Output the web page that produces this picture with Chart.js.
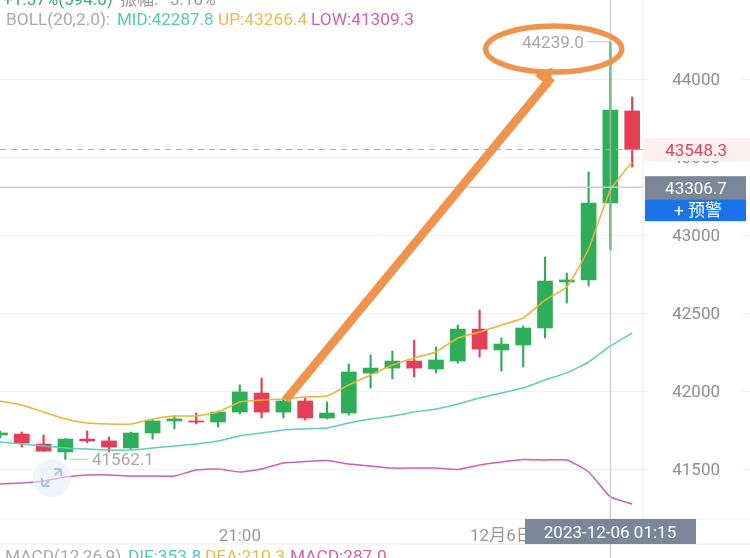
<!DOCTYPE html>
<html>
<head>
<meta charset="utf-8">
<script src="https://cdn.jsdelivr.net/npm/chart.js@4"></script>
<style>
html, body { margin: 0; padding: 0; background: #fff; overflow: hidden; width: 750px; height: 558px; }
canvas { display: block; }
</style>
</head>
<body>
<canvas id="klineChart" width="763" height="558"></canvas>
<script>
var times = ["18:15","18:30","18:45","19:00","19:15","19:30","19:45","20:00","20:15","20:30","20:45","21:00","21:15","21:30","21:45","22:00","22:15","22:30","22:45","23:00","23:15","23:30","23:45","00:00","00:15","00:30","00:45","01:00","01:15","01:30","01:45","02:00","02:15","02:30","02:45","03:00"];
var shownTimes = { "21:00": "21:00", "00:00": "12月6日" };
var priceTicks = [41500, 42000, 42500, 43000, 43500, 44000];

var opens  = [41718,41724,41660,41609,41692,41680,41635,41731,41808,41808,41801,41865,41987,41865,41936,41827,41859,42115,42147,42192,42141,42192,42397,42263,42295,42404,42699,42712,43205,43795];
var closes = [41731,41667,41615,41692,41680,41641,41731,41808,41821,41801,41865,41994,41865,41936,41827,41859,42122,42147,42192,42147,42199,42397,42269,42301,42404,42705,42712,43205,43801,43548.3];
var highs  = [41744,41737,41718,41695,41744,41705,41737,41814,41840,41859,41872,42039,42083,41962,41955,41930,42173,42231,42256,42327,42282,42423,42519,42340,42417,42859,42756,43404,44239,43885];
var lows   = [41699,41641,41612,41562.1,41667,41609,41628,41692,41757,41789,41769,41853,41827,41827,41814,41821,41846,42019,42077,42090,42115,42179,42218,42128,42154,42340,42564,42673,42904,43436];

var bollUp  = [41936,41910,41865,41821,41795,41789,41789,41821,41840,41840,41865,41930,41942,41949,41962,41968,42039,42103,42167,42212,42250,42340,42378,42423,42468,42583,42667,42910,43289,43468];
var bollMid = [41673,41660,41648,41635,41628,41622,41622,41635,41648,41660,41680,41712,41731,41750,41757,41763,41795,41821,41840,41865,41885,41917,41955,41987,42019,42071,42116,42186,42289,42372];
var bollLow = [41404,41410,41423,41449,41462,41462,41455,41455,41455,41494,41500,41481,41500,41539,41548,41555,41532,41519,41506,41506,41506,41497,41526,41545,41561,41558,41558,41481,41321,41276];

var green = '#2fae5a';
var red = '#e43f54';
var font = 'Roboto, "Noto Sans CJK SC", sans-serif';

var candleColors = [];
var bodies = [];
var wicks = [];
var i;
for (i = 0; i < opens.length; i++) {
    candleColors.push(closes[i] >= opens[i] ? green : red);
    bodies.push([opens[i], closes[i]]);
    wicks.push([lows[i], highs[i]]);
}

function text(ctx, str, x, y, color, size, align) {
    ctx.fillStyle = color;
    ctx.font = size + 'px ' + font;
    ctx.textAlign = align || 'left';
    ctx.textBaseline = 'alphabetic';
    ctx.fillText(str, x, y);
}

function line(ctx, x1, y1, x2, y2, color, width, dash) {
    ctx.beginPath();
    ctx.strokeStyle = color;
    ctx.lineWidth = width;
    ctx.setLineDash(dash || []);
    ctx.moveTo(x1, y1);
    ctx.lineTo(x2, y2);
    ctx.stroke();
    ctx.setLineDash([]);
}

// everything the plain chart types can't do: crosshair, price tags, hand drawn arrow
var overlay = {
    id: 'overlay',
    afterDraw: function (chart) {
        var ctx = chart.ctx;
        var xs = chart.scales.x;
        var ys = chart.scales.y;
        var w = chart.width;
        var edge = xs.getPixelForValue(29.5);
        var crossX = xs.getPixelForValue(28);
        var crossY = ys.getPixelForValue(43306.7);
        var lastY = ys.getPixelForValue(43548.3);
        var bottom = chart.chartArea.bottom;
        ctx.save();

        line(ctx, edge, 0, edge, 544, '#eeeeee', 1);
        line(ctx, 0, bottom, w, bottom, '#eeeeee', 1);
        line(ctx, 0, 544, w, 544, '#eeeeee', 1);
        line(ctx, crossX, 0, crossX, 558, 'rgba(190,190,190,0.7)', 1.5);
        line(ctx, 0, crossY, edge, crossY, '#cfcfcf', 1.5);
        line(ctx, 0, lastY, edge, lastY, '#aaaaaa', 1, [6, 5]);

        // wicks of the crosshair candle sit on top of the crosshair
        line(ctx, crossX, ys.getPixelForValue(highs[28]), crossX, ys.getPixelForValue(closes[28]), '#6fbf8c', 1.5);
        line(ctx, crossX, ys.getPixelForValue(opens[28]), crossX, ys.getPixelForValue(lows[28]), '#6fbf8c', 1.5);

        ctx.fillStyle = '#fdf0f0';
        ctx.fillRect(edge, lastY - 11.5, w - edge, 23);
        text(ctx, '43548.3', 727, lastY + 6.5, '#d9485f', 17, 'right');

        ctx.fillStyle = '#7a8799';
        ctx.fillRect(645, crossY - 11, 101, 23);
        text(ctx, '43306.7', 696, crossY + 6.5, '#ffffff', 17, 'center');
        ctx.fillStyle = '#1a73e8';
        ctx.fillRect(645, crossY + 12, 101, 22);
        text(ctx, '+ 预警', 698, crossY + 29, '#ffffff', 17, 'center');

        ctx.fillStyle = '#7a8799';
        ctx.fillRect(525, bottom, 171, 25);
        text(ctx, '2023-12-06 01:15', 610, bottom + 19, '#ffffff', 17, 'center');

        // high / low markers
        var highY = ys.getPixelForValue(highs[28]);
        line(ctx, 587, highY, crossX, highY, '#c8c8c8', 1);
        text(ctx, '44239.0', 522, highY + 6, '#a8a8a8', 17);
        var lowY = ys.getPixelForValue(lows[3]);
        line(ctx, 69, lowY, 88, lowY, '#c8c8c8', 1);
        text(ctx, '41562.1', 92, lowY + 6, '#a8a8a8', 17);

        // drawing tool button
        ctx.fillStyle = 'rgba(228,238,252,0.6)';
        ctx.beginPath();
        ctx.arc(52, 478, 19, 0, Math.PI * 2);
        ctx.fill();
        line(ctx, 44, 486, 49, 481, '#a9c4ea', 2);
        line(ctx, 55, 475, 61, 469, '#a9c4ea', 2);
        line(ctx, 54, 469, 61, 469, '#a9c4ea', 2);
        line(ctx, 61, 469, 61, 476, '#a9c4ea', 2);
        line(ctx, 42, 478, 42, 486, '#a9c4ea', 2);
        line(ctx, 42, 486, 50, 486, '#a9c4ea', 2);

        // orange marker
        var orange = '#f0944d';
        var ax = xs.getPixelForValue(13.1), ay = ys.getPixelForValue(41942);
        var bx = xs.getPixelForValue(25.3), by = ys.getPixelForValue(44010);
        line(ctx, ax, ay, bx, by, orange, 8.5);
        ctx.fillStyle = orange;
        ctx.beginPath();
        ctx.moveTo(bx + 1, by - 10);
        ctx.lineTo(bx - 17, by - 2);
        ctx.lineTo(bx - 1, by + 10);
        ctx.closePath();
        ctx.fill();
        ctx.beginPath();
        ctx.strokeStyle = orange;
        ctx.lineWidth = 5.5;
        ctx.ellipse(xs.getPixelForValue(25.4), ys.getPixelForValue(44192), 68, 23, 0, 0, Math.PI * 2);
        ctx.stroke();

        // header rows
        text(ctx, '+1.37%(594.0)', 3, 5, '#3aae66', 17);
        text(ctx, '振幅:', 120, 5, '#9a9a9a', 17);
        text(ctx, '3.10%', 170, 5, '#9a9a9a', 17);
        text(ctx, 'BOLL(20,2.0):', 6, 25, '#aaaaaa', 17.3);
        text(ctx, 'MID:42287.8', 117, 25, '#53cbbb', 17);
        text(ctx, 'UP:43266.4', 218, 25, '#eeb94a', 17.3);
        text(ctx, 'LOW:41309.3', 311, 25, '#cf62b6', 17.3);
        text(ctx, 'MACD(12,26,9)', 5, 562, '#aaaaaa', 17.3);
        text(ctx, 'DIF:353.8', 128, 562, '#53cbbb', 17.3);
        text(ctx, 'DEA:210.3', 205, 562, '#eeb94a', 17.3);
        text(ctx, 'MACD:287.0', 290, 562, '#cf62b6', 17.3);
        ctx.restore();
    }
};

function bollDataset(values, color) {
    return {
        type: 'line',
        data: values,
        borderColor: color,
        borderWidth: 1.5,
        pointRadius: 0,
        lineTension: 0.15,
        fill: false,
        order: 0
    };
}

new Chart(document.getElementById('klineChart').getContext('2d'), {
    type: 'bar',
    data: {
        labels: times,
        datasets: [
            bollDataset(bollUp, '#e8b535'),
            bollDataset(bollMid, '#5ccdc0'),
            bollDataset(bollLow, '#cc5fb8'),
            { data: bodies, backgroundColor: candleColors, barThickness: 15, grouped: false, order: 1 },
            { data: wicks, backgroundColor: candleColors, barThickness: 1.5, grouped: false, order: 2 }
        ]
    },
    options: {
        responsive: false,
        animation: false,
        layout: { padding: 0, autoPadding: false },
        plugins: { legend: { display: false }, tooltip: { enabled: false } },
        scales: {
            x: {
                type: 'category',
                offset: false,
                grid: { display: false },
                border: { display: false },
                afterFit: function (scale) {
                    scale.height = 39;
                    scale.paddingLeft = 0;
                    scale.paddingRight = 0;
                },
                ticks: {
                    autoSkip: false,
                    maxRotation: 0,
                    padding: 0,
                    color: '#999999',
                    font: { family: font, size: 17 },
                    callback: function (value) {
                        return shownTimes[this.getLabelForValue(value)] || '';
                    }
                }
            },
            y: {
                position: 'right',
                min: 41179.6,
                max: 44506.4,
                border: { display: false },
                grid: { color: '#f2f2f2', lineWidth: 1, drawTicks: false },
                afterFit: function (scale) {
                    scale.width = 0;
                    scale.paddingTop = 0;
                    scale.paddingBottom = 0;
                },
                afterBuildTicks: function (scale) {
                    scale.ticks = priceTicks.map(function (v) { return { value: v }; });
                },
                ticks: {
                    mirror: true,
                    padding: -43,
                    labelOffset: 2,
                    color: '#8f8f8f',
                    font: { family: font, size: 17 },
                    callback: function (value) { return String(value); },
                    showLabelBackdrop: true,
                    backdropColor: '#ffffff',
                    backdropPadding: { left: 23, right: 22, top: 0, bottom: 0 }
                }
            }
        }
    },
    plugins: [overlay]
});
</script>
</body>
</html>
